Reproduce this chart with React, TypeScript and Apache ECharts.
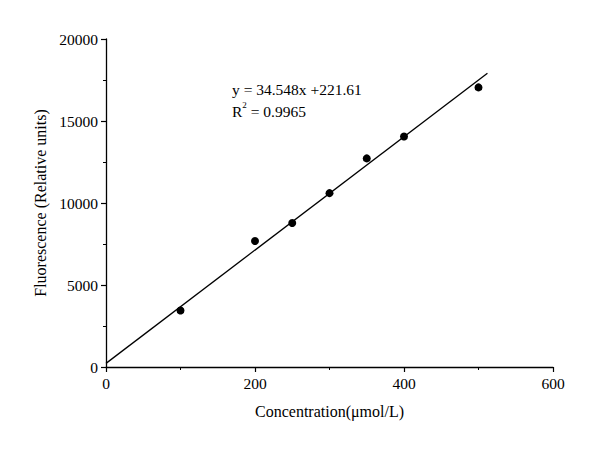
import React, { useEffect, useRef } from "react";
import * as echarts from "echarts";

const concentration = [100, 200, 250, 300, 350, 400, 500];
const fluorescence = [3450, 7680, 8780, 10600, 12720, 14050, 17050];
const fitX = [0, 512];
const fitY = [221.61, 17910];
const equationText = "y = 34.548x +221.61";
const r2Value = "0.9965";
const xName = "Concentration(μmol/L)";
const yName = "Fluorescence (Relative units)";

export default function App() {
  const ref = useRef<HTMLDivElement>(null);
  useEffect(() => {
    if (!ref.current) return;
    const chart = echarts.init(ref.current, null, { renderer: "svg" });
    const font = "Liberation Serif";
    const axisCommon = {
      axisLine: { show: true, lineStyle: { color: "#000", width: 1.3 } },
      axisTick: { show: true, length: 5, lineStyle: { color: "#000", width: 1.2 } },
      minorTick: { show: true, splitNumber: 2, length: 3, lineStyle: { color: "#000", width: 1 } },
      splitLine: { show: false },
      axisLabel: { color: "#000", fontFamily: font, fontSize: 15.5, formatter: (v: number) => String(v) },
      nameTextStyle: { color: "#000", fontFamily: font, fontSize: 16 },
    };
    chart.setOption({
      animation: false,
      backgroundColor: "#fff",
      grid: { left: 106, right: 55, top: 39, bottom: 88, containLabel: false },
      xAxis: {
        type: "value",
        min: 0,
        max: 600,
        interval: 200,
        name: xName,
        nameLocation: "middle",
        nameGap: 36,
        ...axisCommon,
        axisLabel: { ...axisCommon.axisLabel, margin: 8 },
      },
      yAxis: {
        type: "value",
        min: 0,
        max: 20000,
        interval: 5000,
        name: yName,
        nameLocation: "middle",
        nameGap: 50,
        ...axisCommon,
        axisLabel: { ...axisCommon.axisLabel, margin: 8 },
      },
      series: [
        {
          type: "line",
          data: fitX.map((x, i) => [x, fitY[i]]),
          showSymbol: false,
          symbol: "none",
          lineStyle: { color: "#000", width: 1.3 },
          silent: true,
        },
        {
          type: "scatter",
          data: concentration.map((x, i) => [x, fluorescence[i]]),
          symbol: "circle",
          symbolSize: 8,
          itemStyle: { color: "#000", opacity: 1 },
        },
      ],
      graphic: [
        {
          type: "text",
          left: 232,
          top: 78,
          style: {
            text: equationText + "\n{r|R}{s|2}{r| = " + r2Value + "}",
            fontFamily: font,
            fontSize: 15.5,
            fill: "#000",
            lineHeight: 22,
            rich: {
              r: { fontFamily: font, fontSize: 15.5, fill: "#000" },
              s: { fontFamily: font, fontSize: 9, fill: "#000", verticalAlign: "top", padding: [0, 0, 8, 0] },
            },
          },
        },
      ],
    });
    return () => chart.dispose();
  }, []);
  return (
    <div
      ref={ref}
      style={{ position: "absolute", left: 0, top: 0, width: 608, height: 455 }}
    />
  );
}
